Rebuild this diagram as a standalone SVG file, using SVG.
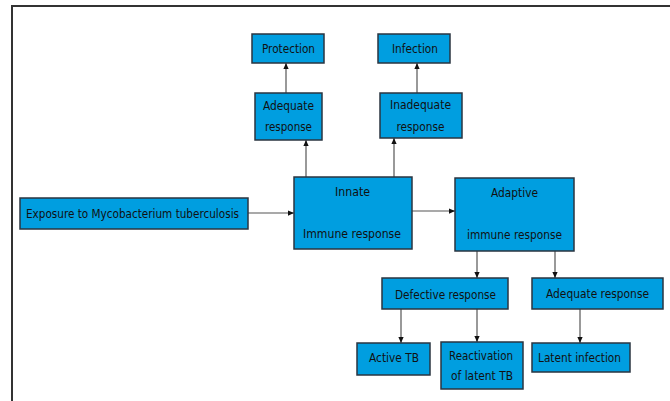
<svg xmlns="http://www.w3.org/2000/svg" width="670" height="401" viewBox="0 0 670 401">
<defs>
<style>
.n rect{fill:#009ee0;stroke:#2a3540;stroke-width:1.5}
.n text{font-family:"DejaVu Sans Condensed","DejaVu Sans",sans-serif;font-size:13px;fill:#111;text-anchor:middle;dominant-baseline:central}
.c line{stroke:#555;stroke-width:1.2;marker-end:url(#ah)}
</style>
<marker id="ah" viewBox="0 0 8 8" refX="8" refY="4" markerWidth="6" markerHeight="6" markerUnits="userSpaceOnUse" orient="auto">
<path d="M0,0.5 L8,4 L0,7.5 Z" fill="#111"/>
</marker>
</defs>
<rect width="670" height="401" fill="#fff"/>
<path d="M12,401 V6 H670" fill="none" stroke="#333" stroke-width="2"/>
<g class="c">
<line x1="286" y1="93" x2="286" y2="63"/>
<line x1="417" y1="93" x2="417" y2="63"/>
<line x1="306" y1="177" x2="306" y2="140"/>
<line x1="394" y1="177" x2="394" y2="138"/>
<line x1="248" y1="213" x2="294" y2="213"/>
<line x1="412" y1="211" x2="455" y2="211"/>
<line x1="477" y1="251" x2="477" y2="278"/>
<line x1="555" y1="251" x2="555" y2="278"/>
<line x1="401" y1="309" x2="401" y2="343"/>
<line x1="477" y1="309" x2="477" y2="342"/>
<line x1="580" y1="309" x2="580" y2="343"/>
</g>
<g class="n" id="protection"><rect x="252" y="34" width="72" height="29"/><text x="288.5" y="48" textLength="53" lengthAdjust="spacingAndGlyphs">Protection</text></g>
<g class="n" id="infection"><rect x="378" y="34" width="72" height="29"/><text x="415" y="48" textLength="46" lengthAdjust="spacingAndGlyphs">Infection</text></g>
<g class="n" id="adequate1"><rect x="255" y="93" width="67" height="47"/><text x="288.5" y="105" textLength="51" lengthAdjust="spacingAndGlyphs">Adequate</text><text x="288.5" y="126" textLength="47" lengthAdjust="spacingAndGlyphs">response</text></g>
<g class="n" id="inadequate"><rect x="380" y="93" width="82" height="45"/><text x="420.5" y="104" textLength="61" lengthAdjust="spacingAndGlyphs">Inadequate</text><text x="420.5" y="126" textLength="48" lengthAdjust="spacingAndGlyphs">response</text></g>
<g class="n" id="exposure"><rect x="20" y="198" width="228" height="31"/><text x="132.5" y="213" textLength="213" lengthAdjust="spacingAndGlyphs">Exposure to Mycobacterium tuberculosis</text></g>
<g class="n" id="innate"><rect x="294" y="177" width="118" height="72"/><text x="352.5" y="191" textLength="35" lengthAdjust="spacingAndGlyphs">Innate</text><text x="352" y="233" textLength="98" lengthAdjust="spacingAndGlyphs">Immune response</text></g>
<g class="n" id="adaptive"><rect x="455" y="178" width="119" height="73"/><text x="514.5" y="192" textLength="47" lengthAdjust="spacingAndGlyphs">Adaptive</text><text x="514.5" y="234" textLength="95" lengthAdjust="spacingAndGlyphs">immune response</text></g>
<g class="n" id="defective"><rect x="382" y="278" width="126" height="31"/><text x="445.5" y="294" textLength="101" lengthAdjust="spacingAndGlyphs">Defective response</text></g>
<g class="n" id="adequate2"><rect x="532" y="278" width="131" height="31"/><text x="597.5" y="293" textLength="103" lengthAdjust="spacingAndGlyphs">Adequate response</text></g>
<g class="n" id="activetb"><rect x="357" y="343" width="73" height="32"/><text x="394" y="357" textLength="50" lengthAdjust="spacingAndGlyphs">Active TB</text></g>
<g class="n" id="reactivation"><rect x="441" y="342" width="82" height="47"/><text x="481" y="355" textLength="64" lengthAdjust="spacingAndGlyphs">Reactivation</text><text x="482" y="375" textLength="62" lengthAdjust="spacingAndGlyphs">of latent TB</text></g>
<g class="n" id="latent"><rect x="532" y="343" width="98" height="29"/><text x="579.5" y="357" textLength="83" lengthAdjust="spacingAndGlyphs">Latent infection</text></g>
</svg>
